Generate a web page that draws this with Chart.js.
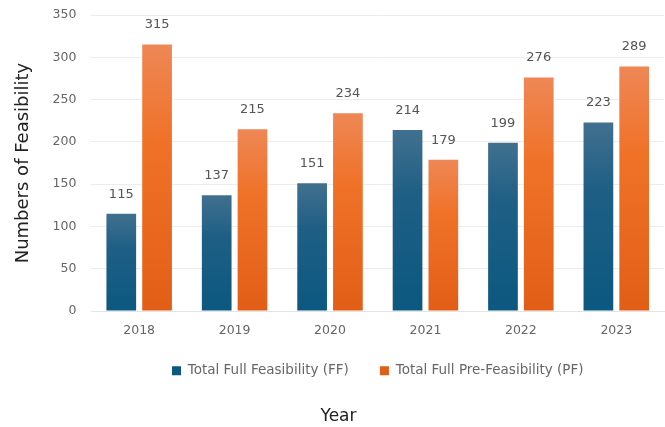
<!DOCTYPE html>
<html>
<head>
<meta charset="utf-8">
<script src="https://cdn.jsdelivr.net/npm/chart.js@4/dist/chart.umd.min.js"></script>
<style>
  html, body { margin: 0; padding: 0; background: #fff; }
  #wrap { width: 665px; height: 427px; }
</style>
</head>
<body>
<div id="wrap"><canvas id="feasChart"></canvas></div>
<script>
// Chart data
const years = ['2018', '2019', '2020', '2021', '2022', '2023'];
const fullFeasibility = [115, 137, 151, 214, 199, 223];
const preFeasibility = [315, 215, 234, 179, 276, 289];
const yTicks = [0, 50, 100, 150, 200, 250, 300, 350];

const FONT = '"DejaVu Sans", "Liberation Sans", Arial, sans-serif';

// Vertical gradient per bar: light at the top, darker at the base
function barGradient(top, mid, bottom) {
    return function(ctx) {
        const chart = ctx.chart;
        if (!chart.chartArea || ctx.type !== 'data') return mid;
        const yScale = chart.scales.y;
        const y0 = yScale.getPixelForValue(ctx.raw);
        const y1 = yScale.getPixelForValue(0);
        const g = chart.ctx.createLinearGradient(0, y0, 0, y1);
        g.addColorStop(0, top);
        g.addColorStop(0.35, mid);
        g.addColorStop(1, bottom);
        return g;
    };
}

// Value labels above each bar
const valueLabels = {
    id: 'valueLabels',
    afterDatasetsDraw(chart) {
        const ctx = chart.ctx;
        ctx.save();
        ctx.font = '13px ' + FONT;
        ctx.fillStyle = '#555';
        ctx.textAlign = 'center';
        ctx.textBaseline = 'middle';
        chart.data.datasets.forEach((ds, i) => {
            chart.getDatasetMeta(i).data.forEach((bar, j) => {
                ctx.fillText(ds.data[j], bar.x, bar.y - 19.5);
            });
        });
        ctx.restore();
    }
};

new Chart(document.getElementById('feasChart').getContext('2d'), {
    type: 'bar',
    data: {
        labels: years,
        datasets: [{
            label: 'Total Full Feasibility (FF)',
            data: fullFeasibility,
            backgroundColor: barGradient('#41708f', '#1f5f85', '#0b5880'),
            categoryPercentage: 0.75,
            barPercentage: 0.83
        }, {
            label: 'Total Full Pre-Feasibility (PF)',
            data: preFeasibility,
            backgroundColor: barGradient('#ee8756', '#f07229', '#e25e17'),
            categoryPercentage: 0.75,
            barPercentage: 0.83
        }]
    },
    options: {
        responsive: true,
        maintainAspectRatio: false,
        animation: false,
        layout: { padding: { top: 0, right: 1, left: 13, bottom: 0 } },
        plugins: {
            legend: {
                position: 'bottom',
                fullSize: false,
                labels: {
                    boxWidth: 9,
                    boxHeight: 9,
                    padding: 14,
                    color: '#666',
                    font: { family: FONT, size: 13.5 },
                    // a little extra room between the two entries
                    generateLabels: chart => {
                        const items = Chart.defaults.plugins.legend.labels.generateLabels(chart);
                        items.forEach((it, i) => { if (i < items.length - 1) it.text += '    '; });
                        return items;
                    }
                }
            },
            title: {
                display: true,
                position: 'bottom',
                text: 'Year',
                color: '#222',
                padding: { top: 19, bottom: 0 },
                font: { family: FONT, size: 17, weight: 'normal' }
            },
            tooltip: { enabled: false }
        },
        scales: {
            x: {
                grid: { display: false, drawTicks: false },
                border: { display: true, color: '#e4e4e4' },
                ticks: {
                    padding: 12,
                    color: '#666',
                    font: { family: FONT, size: 12.5 }
                }
            },
            y: {
                min: 0,
                max: 350,
                afterBuildTicks: axis => { axis.ticks = yTicks.map(v => ({ value: v })); },
                grid: { color: '#ececec', drawTicks: false },
                border: { display: false },
                ticks: {
                    padding: 15,
                    color: '#666',
                    font: { family: FONT, size: 12.5, lineHeight: 0 }
                },
                title: {
                    display: true,
                    text: 'Numbers of Feasibility',
                    color: '#222',
                    padding: { top: 0, bottom: 3 },
                    font: { family: FONT, size: 18 }
                }
            }
        }
    },
    plugins: [valueLabels]
});
</script>
</body>
</html>
